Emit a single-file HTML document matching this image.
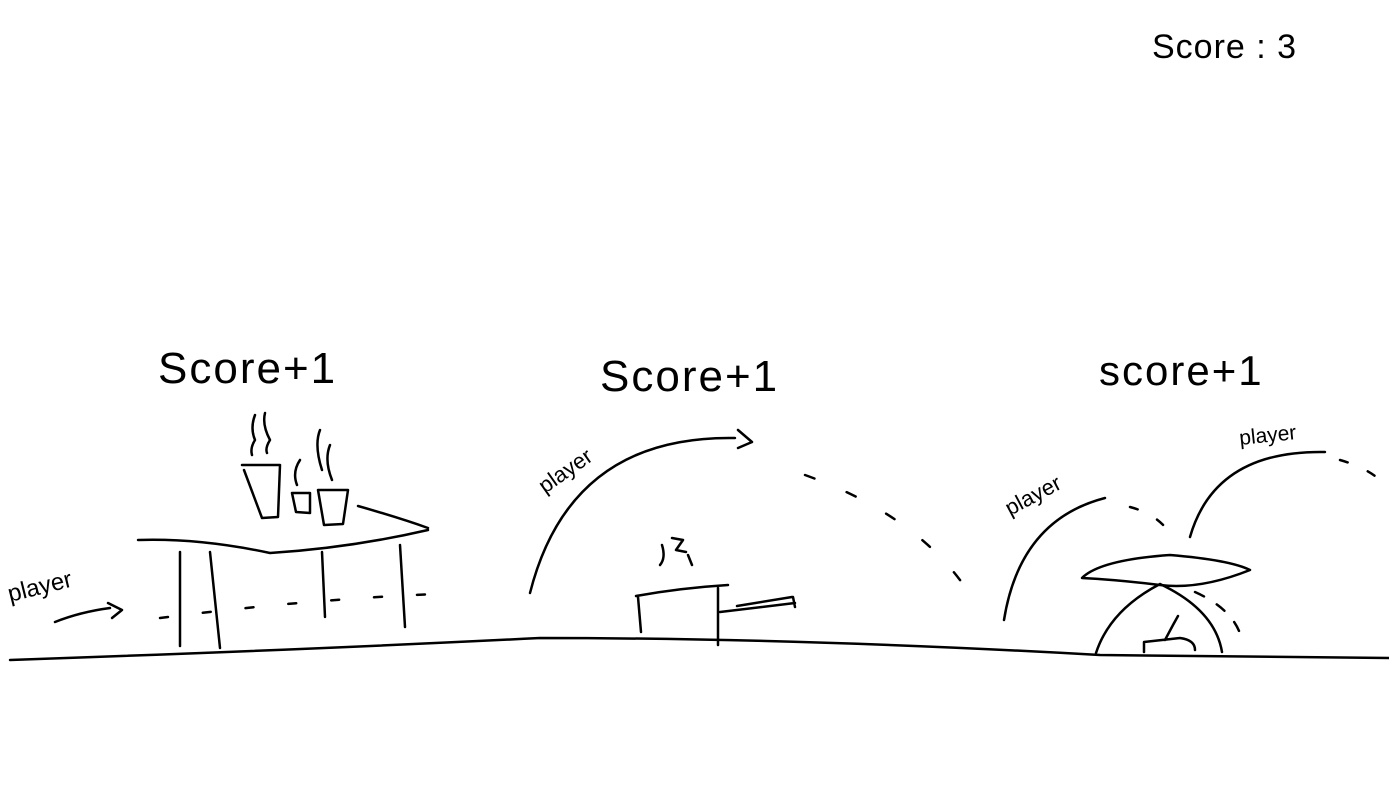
<!DOCTYPE html>
<html><head><meta charset="utf-8"><style>
html,body{margin:0;padding:0;background:#fff;}
svg{display:block;}
text{font-family:"Liberation Sans",sans-serif;fill:#000;}
</style></head><body>
<svg width="1389" height="803" viewBox="0 0 1389 803" fill="none" stroke="#000" stroke-width="2.5" stroke-linecap="round" stroke-linejoin="round">
<text x="1152" y="58" font-size="34" letter-spacing="1" stroke="none">Score : 3</text>
<text x="158" y="383" font-size="44" letter-spacing="2" stroke="none">Score+1</text>
<text x="600" y="391" font-size="44" letter-spacing="2" stroke="none">Score+1</text>
<text x="1099" y="385" font-size="42" letter-spacing="2" stroke="none">score+1</text>
<text x="10" y="602" font-size="24" stroke="none" transform="rotate(-14 10 602)">player</text>
<text x="545" y="494" font-size="22" stroke="none" transform="rotate(-35 545 494)">player</text>
<text x="1010" y="516" font-size="22" stroke="none" transform="rotate(-28 1010 516)">player</text>
<text x="1240" y="445" font-size="21" stroke="none" transform="rotate(-6 1240 445)">player</text>
<path d="M10 660 Q300 650 540 638 Q800 638 1100 655 L1389 658"/>
<g>
<path d="M138 540 Q200 538 270 553 Q350 548 428 530"/>
<path d="M358 506 Q400 518 428 528"/>
<path d="M180 552 L180 646 M210 552 L220 648 M322 552 L325 617 M400 545 L405 627"/>
<path d="M242 465 L280 465 L278 517 L262 518 L244 470"/><path d="M292 493 L310 493 L310 513 L296 512 Z"/><path d="M318 490 L348 490 L343 524 L324 525 Z"/>
<path d="M255 415 Q250 428 255 440 Q250 448 252 455 M265 413 Q262 425 270 440 Q265 448 267 453 M300 460 Q292 472 297 485 M320 430 Q314 445 322 470 M330 445 Q324 460 332 480"/>
</g>
<path d="M55 622 Q80 612 110 608 M108 603 L122 610 L112 618"/>
<path stroke-dasharray="8 35" d="M160 618 Q300 600 435 594"/>
<g>
<path d="M636 596 Q680 588 728 585 M638 597 L641 632 M718 588 L718 645 M720 612 L795 603 M737 606 L792 597 M793 597 L795 607"/>
<path d="M662 545 Q666 558 660 565 M672 538 L683 540 L676 550 L686 552 M688 555 L692 565"/>
</g>
<path d="M530 593 Q570 435 735 438 M738 430 L752 442 L738 448"/>
<path stroke-dasharray="10 35" d="M805 475 Q930 520 978 608"/>
<g>
<path d="M1082 578 Q1100 560 1170 555 Q1230 560 1250 570 Q1200 590 1160 585 Q1120 580 1082 578 Z"/>
<path d="M1160 584 Q1110 610 1096 653 M1160 584 Q1215 610 1222 652"/>
<path d="M1144 652 L1144 642 L1180 638 Q1195 640 1195 650 M1165 640 L1173 625 L1178 616"/>
</g>
<path d="M1004 620 Q1020 520 1105 498"/>
<path stroke-dasharray="8 22" d="M1130 507 Q1160 515 1172 537"/>
<path d="M1190 537 Q1215 450 1325 452"/>
<path stroke-dasharray="8 22" d="M1340 460 Q1375 470 1389 490"/>
<path stroke-dasharray="10 15" d="M1195 592 Q1235 610 1242 640"/>
</svg>
</body></html>
